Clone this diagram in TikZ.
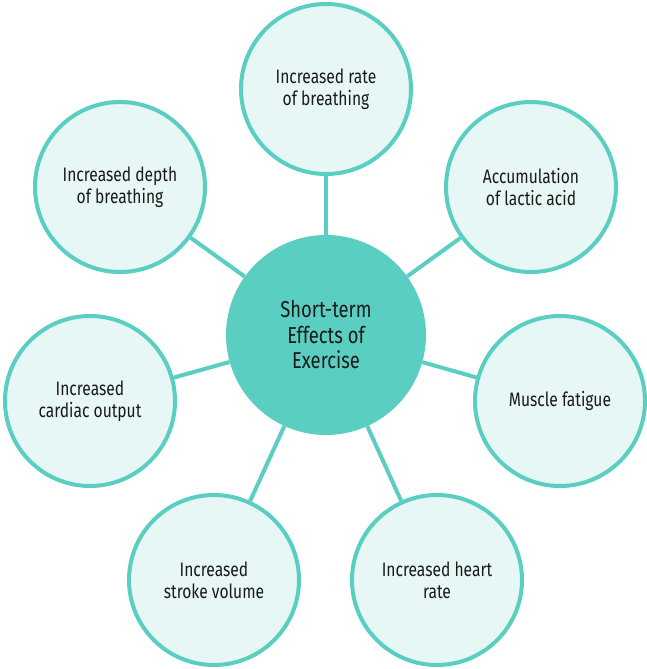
\documentclass[tikz,border=0pt]{standalone}
\usepackage{fontspec}
\setmainfont[FakeStretch=0.8]{Fira Sans}
\definecolor{teal}{HTML}{5BCEC2}
\definecolor{paleteal}{HTML}{E7F7F5}
\definecolor{ink}{HTML}{1A1A1A}
\begin{document}
\begin{tikzpicture}[x=1pt,y=-1pt,
  hub/.style={circle,fill=teal,minimum size=200pt,inner sep=0pt,align=center,
    text=ink,font=\fontsize{23}{25.5}\selectfont},
  leaf/.style={circle,draw=teal,line width=4pt,fill=paleteal,minimum size=170pt,
    inner sep=0pt,align=center,text=ink,font=\fontsize{19.5}{22}\selectfont},
  link/.style={draw=teal,line width=4pt}]
\useasboundingbox (0,0) rectangle (647,669);
% outer effect circles
\node[leaf] (rate)    at (326,89)  {Increased rate\\of breathing};
\node[leaf] (lactic)  at (531,187) {Accumulation\\of lactic acid};
\node[leaf] (fatigue) at (560,401) {Muscle fatigue};
\node[leaf] (heart)   at (437,580) {Increased heart\\rate};
\node[leaf] (stroke)  at (214,580) {Increased\\stroke volume};
\node[leaf] (cardiac) at (90,401)  {Increased\\cardiac output};
\node[leaf] (depth)   at (120,187) {Increased depth\\of breathing};
% central topic
\node[hub] (hub) at (326,335) {Short-term\\Effects of\\Exercise};
% spokes from the centre to every effect, clipped at the circle borders
\foreach \n in {rate,lactic,fatigue,heart,stroke,cardiac,depth}
  \path[link] (hub) -- (\n);
\end{tikzpicture}
\end{document}
